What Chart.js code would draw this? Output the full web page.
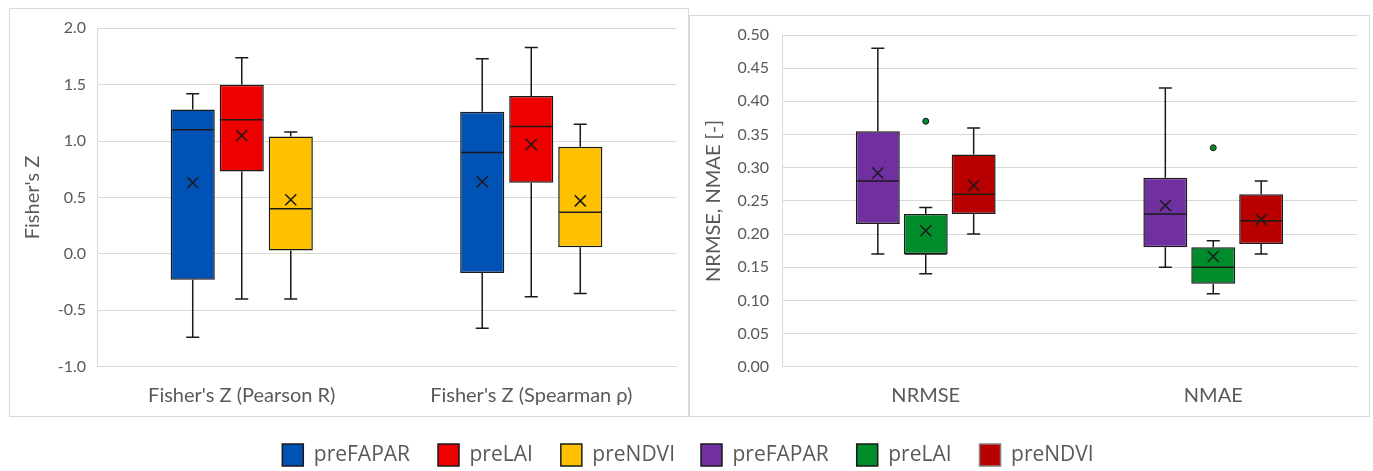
<!DOCTYPE html>
<html lang="en">
<head>
<meta charset="UTF-8" />
<title>Fisher's Z and NRMSE / NMAE box plots</title>
<script src="https://cdn.jsdelivr.net/npm/chart.js"></script>
<style>
  body { margin: 0; background: #fff; }
  #wrap { position: relative; width: 1373px; height: 471px; overflow: hidden; }
  canvas { position: absolute; top: 0; }
</style>
</head>
<body>
<div id="wrap">
  <canvas id="fisherChart"></canvas>
  <canvas id="errorChart"></canvas>
</div>
<script>
// each row is [min, q1, median, q3, max] for one category
const fisherCategories = ["Fisher's Z (Pearson R)", "Fisher's Z (Spearman ρ)"];
const fisherFAPAR = [[-0.74, -0.23, 1.10, 1.28, 1.42], [-0.66, -0.17, 0.90, 1.26, 1.73]];
const fisherLAI   = [[-0.40, 0.73, 1.19, 1.50, 1.74], [-0.38, 0.63, 1.13, 1.40, 1.83]];
const fisherNDVI  = [[-0.40, 0.03, 0.40, 1.04, 1.08], [-0.35, 0.06, 0.37, 0.95, 1.15]];
const fisherFAPARMean = [0.63, 0.64];
const fisherLAIMean   = [1.05, 0.97];
const fisherNDVIMean  = [0.48, 0.47];

const errorCategories = ['NRMSE', 'NMAE'];
const errorFAPAR = [[0.17, 0.215, 0.28, 0.355, 0.48], [0.15, 0.18, 0.23, 0.285, 0.42]];
const errorLAI   = [[0.14, 0.17, 0.17, 0.23, 0.24], [0.11, 0.125, 0.15, 0.18, 0.19]];
const errorNDVI  = [[0.20, 0.23, 0.26, 0.32, 0.36], [0.17, 0.185, 0.22, 0.26, 0.28]];
const errorFAPARMean = [0.292, 0.243];
const errorLAIMean   = [0.205, 0.166];
const errorNDVIMean  = [0.273, 0.222];
const errorLAIOutliers = [[0.37], [0.33]];

const gridColor = '#d9d9d9';
const textColor = '#595959';
const legendPad = 28;

Chart.defaults.font.family = 'Lato';
Chart.defaults.color = textColor;

function boxDataset(label, color, stats, means, outliers) {
  return {
    label: label,
    data: stats.map(s => [s[1], s[3]]),
    stats: stats,
    means: means,
    outliers: outliers || [],
    backgroundColor: color,
    borderColor: '#1a1a1a',
    borderWidth: 1.5,
    borderSkipped: false
  };
}

// whiskers, median, mean cross and outliers on top of the floating bars
const boxPlotMarks = {
  id: 'boxPlotMarks',
  afterDatasetsDraw(chart) {
    const ctx = chart.ctx;
    const yScale = chart.scales.y;
    const py = v => yScale.getPixelForValue(v);
    chart.data.datasets.forEach((ds, di) => {
      chart.getDatasetMeta(di).data.forEach((bar, i) => {
        const [min, q1, med, q3, max] = ds.stats[i];
        const x = bar.x, half = bar.width / 2, cap = 6.5;
        ctx.save();
        ctx.strokeStyle = '#1a1a1a';
        ctx.lineWidth = 1.5;
        ctx.beginPath();
        ctx.moveTo(x, py(q3)); ctx.lineTo(x, py(max));
        ctx.moveTo(x - cap, py(max)); ctx.lineTo(x + cap, py(max));
        ctx.moveTo(x, py(q1)); ctx.lineTo(x, py(min));
        ctx.moveTo(x - cap, py(min)); ctx.lineTo(x + cap, py(min));
        ctx.moveTo(x - half + 1, py(med)); ctx.lineTo(x + half - 1, py(med));
        ctx.stroke();

        const my = py(ds.means[i]), s = 5.5;
        ctx.beginPath();
        ctx.moveTo(x - s, my - s); ctx.lineTo(x + s, my + s);
        ctx.moveTo(x + s, my - s); ctx.lineTo(x - s, my + s);
        ctx.stroke();

        (ds.outliers[i] || []).forEach(v => {
          ctx.beginPath();
          ctx.arc(x, py(v), 3, 0, Math.PI * 2);
          ctx.fillStyle = ds.backgroundColor;
          ctx.fill();
          ctx.lineWidth = 1;
          ctx.stroke();
        });
        ctx.restore();
      });
    });
  }
};

const panelBorder = {
  id: 'panelBorder',
  beforeDraw(chart, args, opts) {
    const ctx = chart.ctx;
    ctx.save();
    ctx.strokeStyle = gridColor;
    ctx.lineWidth = 1;
    ctx.strokeRect(opts.x + 0.5, opts.y + 0.5, opts.w, opts.h);
    ctx.restore();
  }
};

function makeChart(canvas, cfg) {
  canvas.width = cfg.width;
  canvas.height = 471;
  canvas.style.left = cfg.left + 'px';
  return new Chart(canvas, {
    type: 'bar',
    data: { labels: cfg.labels, datasets: cfg.datasets },
    plugins: [panelBorder, boxPlotMarks],
    options: {
      responsive: false,
      animation: false,
      datasets: { bar: { categoryPercentage: cfg.catPct, barPercentage: cfg.barPct } },
      layout: { padding: { top: cfg.top, right: 0, left: 0, bottom: -5 } },
      scales: {
        x: {
          grid: { display: false },
          border: { color: gridColor },
          ticks: { padding: 8.5, font: { size: 20 }, color: textColor },
          afterFit: s => { s.height = 416 - 366.7; }
        },
        y: {
          min: cfg.min, max: cfg.max,
          grid: { color: gridColor, drawTicks: false },
          border: { color: gridColor },
          ticks: {
            stepSize: cfg.step, padding: cfg.tickPad, font: { size: 16 }, color: textColor,
            callback: v => v.toFixed(cfg.decimals)
          },
          title: { display: true, text: cfg.yTitle, font: { size: 20 }, color: textColor, padding: { top: cfg.titlePad } },
          afterFit: s => { s.width = cfg.yWidth; }
        },
        yPad: {
          position: 'right',
          grid: { display: false },
          border: { display: false },
          ticks: { display: false },
          afterFit: s => { s.width = cfg.rightGap; }
        }
      },
      plugins: {
        tooltip: { enabled: false },
        panelBorder: cfg.border,
        legend: {
          position: 'bottom',
          align: cfg.legendAlign,
          labels: {
            boxWidth: 21, boxHeight: 22, padding: legendPad,
            font: { family: 'Open Sans', size: 21 }, color: textColor,
            generateLabels: chart => {
              const items = Chart.defaults.plugins.legend.labels.generateLabels(chart);
              if (cfg.lastLegendStroke) items[items.length - 1].strokeStyle = cfg.lastLegendStroke;
              return items;
            }
          }
        }
      }
    }
  });
}

const leftWidth = 675 + legendPad;
makeChart(document.getElementById('fisherChart'), {
  left: 0, width: leftWidth, top: 28.3,
  labels: fisherCategories,
  datasets: [
    boxDataset('preFAPAR', '#0052b4', fisherFAPAR, fisherFAPARMean),
    boxDataset('preLAI', '#ee0000', fisherLAI, fisherLAIMean),
    boxDataset('preNDVI', '#ffc000', fisherNDVI, fisherNDVIMean)
  ],
  catPct: 0.508, barPct: 0.9,
  min: -1, max: 2, step: 0.5, decimals: 1, tickPad: 11,
  yTitle: "Fisher's Z", titlePad: 21, yWidth: 97, rightGap: leftWidth - 676,
  border: { x: 9, y: 8, w: 679, h: 408 },
  legendAlign: 'end'
});

const rightLeft = 701 - legendPad;
makeChart(document.getElementById('errorChart'), {
  left: rightLeft, width: 1373 - rightLeft, top: 35,
  labels: errorCategories,
  datasets: [
    boxDataset('preFAPAR', '#7030a0', errorFAPAR, errorFAPARMean),
    boxDataset('preLAI', '#008c2a', errorLAI, errorLAIMean, errorLAIOutliers),
    boxDataset('preNDVI', '#b80000', errorNDVI, errorNDVIMean)
  ],
  catPct: 0.5, barPct: 0.917,
  min: 0, max: 0.5, step: 0.05, decimals: 2, tickPad: 13,
  yTitle: 'NRMSE, NMAE [-]', titlePad: 714 - rightLeft - 12, yWidth: 782 - rightLeft, rightGap: 1373 - 1357,
  border: { x: 689 - rightLeft, y: 15, w: 680, h: 401 },
  legendAlign: 'start',
  lastLegendStroke: '#808080'
});
</script>
</body>
</html>
